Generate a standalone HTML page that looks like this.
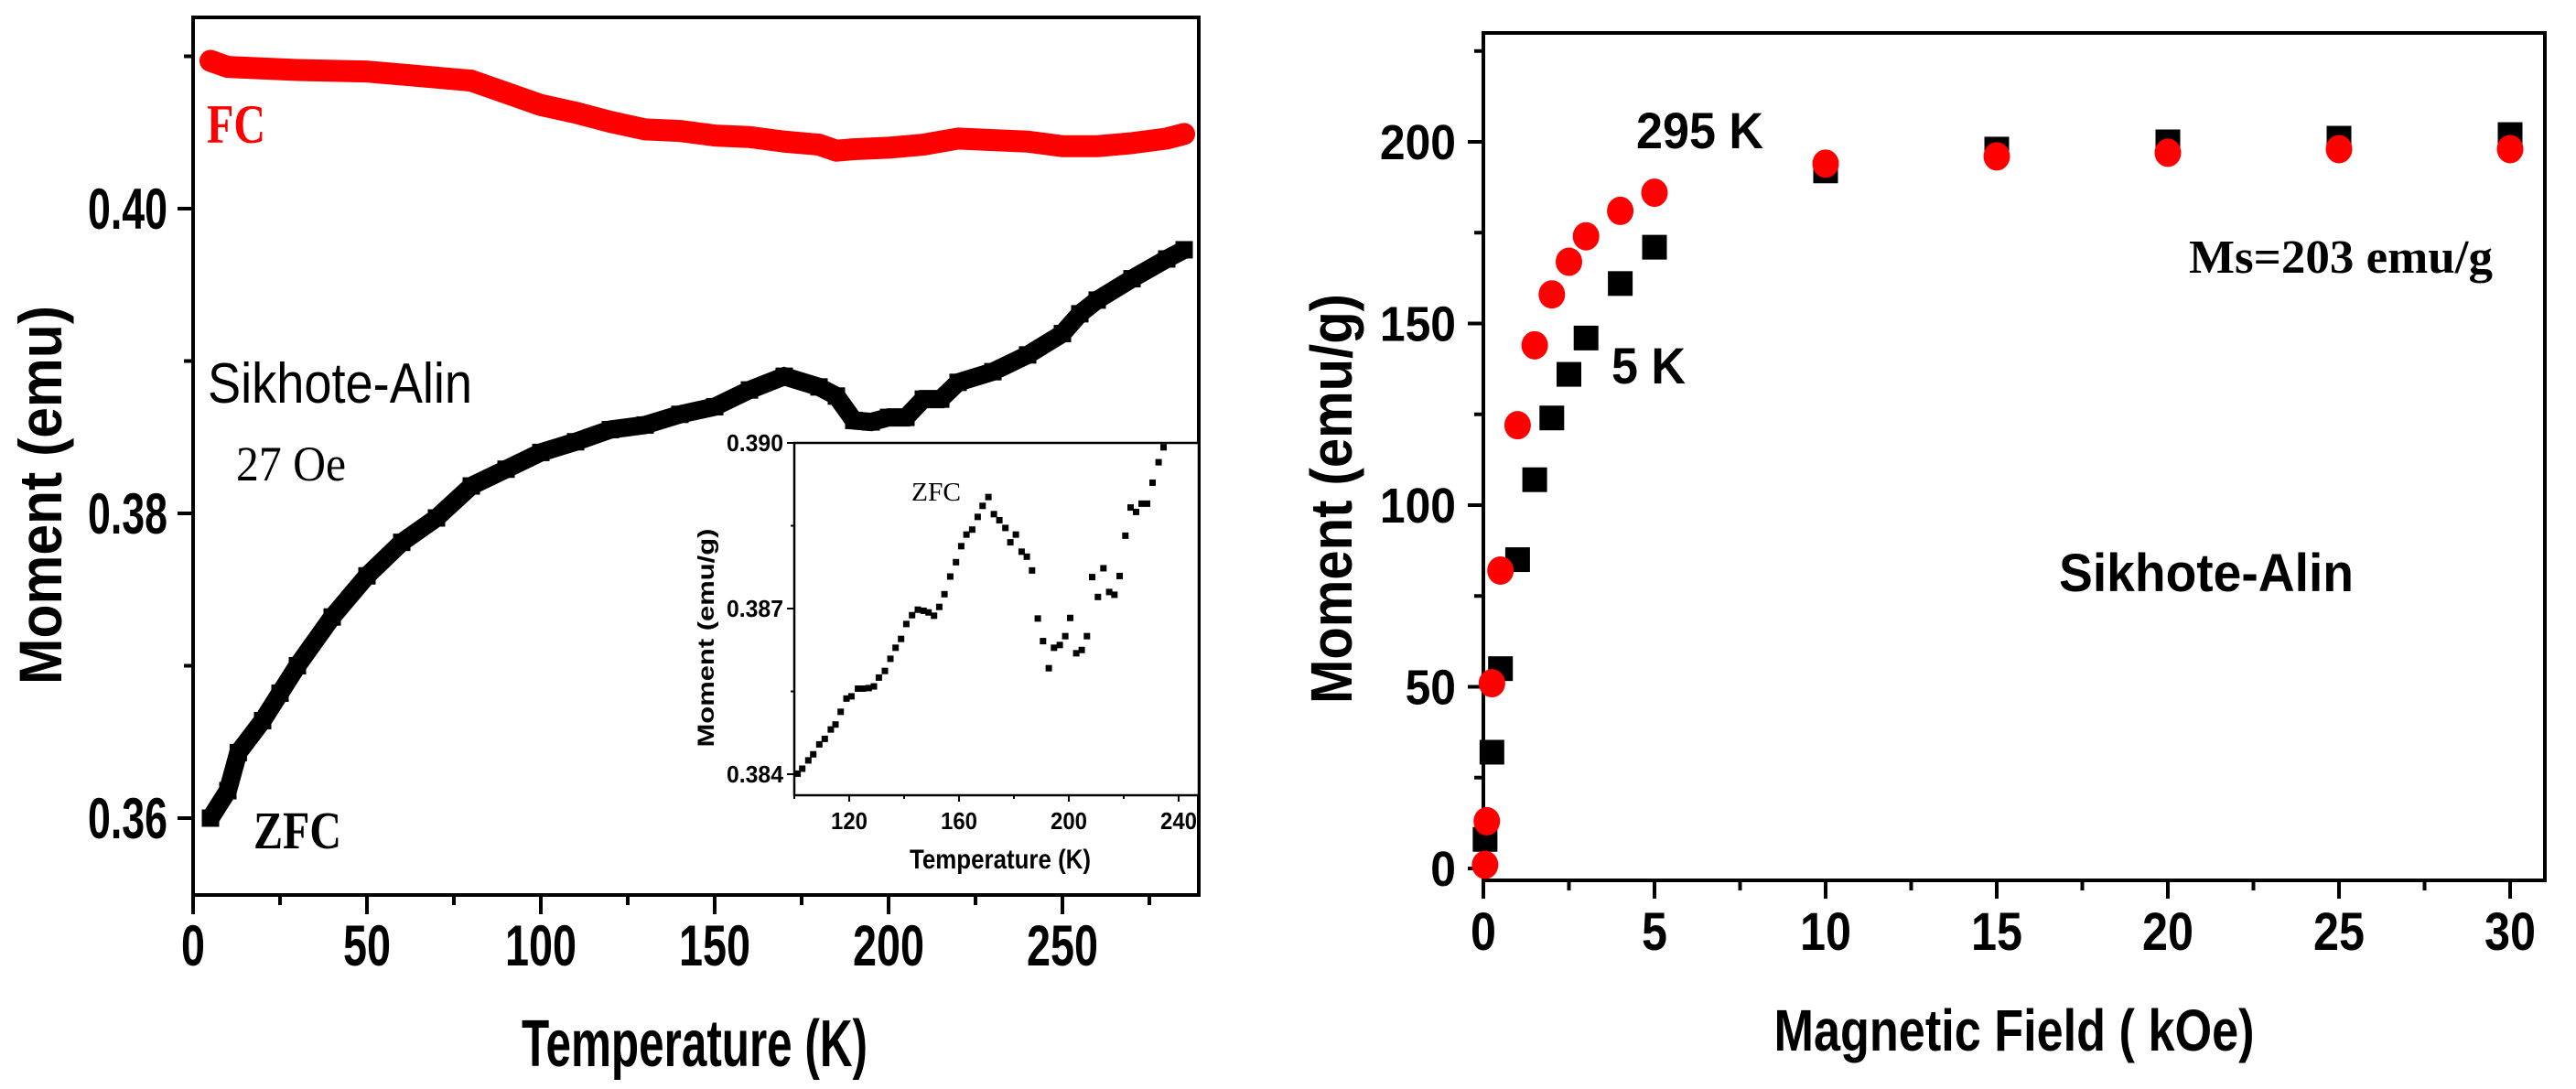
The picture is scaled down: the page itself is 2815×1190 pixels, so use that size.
<!DOCTYPE html>
<html><head><meta charset="utf-8"><style>
html,body{margin:0;padding:0;background:#fff;}
svg{display:block;}
</style></head><body>
<svg id="chart" xmlns="http://www.w3.org/2000/svg" width="2815" height="1190" viewBox="0 0 2815 1190">
<rect x="0" y="0" width="2815" height="1190" fill="#fff"/>
<g id="gL"></g>
<g id="gI"></g>
<g id="gR"></g>
</svg>
<script>
// ---- Left panel data (Temperature vs Moment) ----
const zfcT = [5,10,13,20,25,30,40,50,60,70,80,90,100,110,120,130,140,150,160,170,180,185,190,195,200,205,210,215,220,230,240,250,255,260,270,280,285];
const zfcM = [0.3600,0.3618,0.3643,0.3664,0.3682,0.3700,0.3732,0.3759,0.3781,0.3797,0.3818,0.3829,0.3840,0.3847,0.3855,0.3858,0.3865,0.3870,0.3881,0.3890,0.3883,0.3877,0.3861,0.3860,0.3863,0.3863,0.3875,0.3875,0.3886,0.3893,0.3904,0.3918,0.3931,0.3940,0.3954,0.3967,0.3973];
const fcT = [5,10,30,50,60,80,90,100,110,120,130,140,150,160,170,180,185,190,200,210,220,230,240,250,260,270,280,285];
const fcM = [0.4097,0.4093,0.4091,0.4090,0.4088,0.4084,0.4076,0.4068,0.4063,0.4057,0.4052,0.4051,0.4048,0.4047,0.4044,0.4042,0.4038,0.4039,0.4040,0.4042,0.4046,0.4045,0.4044,0.4041,0.4041,0.4043,0.4046,0.4049];
const leftXTicks = [0,50,100,150,200,250];
const leftXTickLabels = ["0","50","100","150","200","250"];
const leftYTicks = [0.36,0.38,0.40];
const leftYTickLabels = ["0.36","0.38","0.40"];
// ---- Inset data ----
const insT = [101.2,102.9,105.1,106.9,109.1,111.1,113.3,115.0,116.9,119.0,120.8,123.2,125.0,127.1,129.0,130.8,133.0,135.0,136.9,138.9,140.8,142.9,145.0,147.1,148.9,150.9,152.8,154.7,156.8,158.9,160.8,162.7,164.8,166.8,168.6,170.7,172.7,174.7,176.9,178.7,180.7,182.8,184.7,186.6,188.7,190.6,192.7,194.6,196.7,198.7,200.5,202.7,204.7,206.6,208.5,210.6,212.6,214.7,216.6,218.5,220.6,222.5,224.5,226.5,228.5,230.5,232.7,234.5];
const insM = [0.38401,0.38410,0.38425,0.38436,0.38454,0.38464,0.38481,0.38490,0.38513,0.38537,0.38541,0.38555,0.38555,0.38556,0.38559,0.38575,0.38587,0.38609,0.38629,0.38645,0.38672,0.38688,0.38698,0.38696,0.38693,0.38687,0.38703,0.38726,0.38758,0.38784,0.38813,0.38834,0.38843,0.38866,0.38886,0.38902,0.38871,0.38860,0.38846,0.38820,0.38834,0.38803,0.38794,0.38769,0.38682,0.38641,0.38592,0.38629,0.38634,0.38650,0.38683,0.38619,0.38625,0.38650,0.38757,0.38721,0.38773,0.38730,0.38725,0.38759,0.38832,0.38883,0.38875,0.38890,0.38890,0.38928,0.38965,0.38992];
const insXTicks = [120,160,200,240];
const insXTickLabels = ["120","160","200","240"];
const insYTicks = [0.384,0.387,0.390];
const insYTickLabels = ["0.384","0.387","0.390"];
// ---- Right panel data (Field vs Moment) ----
const k5H = [0.05,0.25,0.5,1,1.5,2,2.5,3,4,5,10,15,20,25,30];
const k5M = [8,32,55,85,107,124,136,146,161,171,192,198,200,201,202];
const k295H = [0.05,0.1,0.25,0.5,1,1.5,2,2.5,3,4,5,10,15,20,25,30];
const k295M = [1,13,51,82,122,144,158,167,174,181,186,194,196,197,198,198];
const rightXTicks = [0,5,10,15,20,25,30];
const rightXTickLabels = ["0","5","10","15","20","25","30"];
const rightYTicks = [0,50,100,150,200];
const rightYTickLabels = ["0","50","100","150","200"];

const NS = "http://www.w3.org/2000/svg";
function mk(parent, tag, attrs){ const e=document.createElementNS(NS,tag); for(const k in attrs) e.setAttribute(k,attrs[k]); parent.appendChild(e); return e; }
function txt(parent, x, y, s, size, w, opt){
  opt = opt||{};
  const e = mk(parent,'text',{x:x,y:y,'font-size':size,'font-family':opt.serif?'"Liberation Serif", serif':'"Liberation Sans", sans-serif','font-weight':opt.normal?'normal':'bold',fill:opt.fill||'#000','text-anchor':opt.anchor||'start'});
  if(w){ e.setAttribute('textLength',w); e.setAttribute('lengthAdjust','spacingAndGlyphs'); }
  if(opt.rot) e.setAttribute('transform','rotate(-90 '+x+' '+y+')');
  e.textContent = s;
  return e;
}

// ===== LEFT =====
const gL = document.getElementById('gL');
const L = {x0:211, x1:1310, y0:19, y1:978};
const lx = t => 211 + t*3.8;
const ly = m => 228 + (0.40 - m)*16650;
{
  const f = mk(gL,'rect',{x:L.x0,y:L.y0,width:L.x1-L.x0,height:L.y1-L.y0,fill:'none',stroke:'#000','stroke-width':4});
   
  leftXTicks.forEach((t,i)=>{
    const tk = mk(gL,'line',{x1:lx(t),x2:lx(t),y1:L.y1,y2:L.y1+21,stroke:'#000','stroke-width':4});
     
    const lb = txt(gL,lx(t),1055,leftXTickLabels[i],63,leftXTickLabels[i].length*26,{anchor:'middle'});
     
    const mt = t+25;
    if(lx(mt) < L.x1){ const m = mk(gL,'line',{x1:lx(mt),x2:lx(mt),y1:L.y1,y2:L.y1+11,stroke:'#000','stroke-width':4});
        }
  });
  leftYTicks.forEach((v,i)=>{
    const tk = mk(gL,'line',{x1:L.x0-17,x2:L.x0,y1:ly(v),y2:ly(v),stroke:'#000','stroke-width':4});
     
    const lb = txt(gL,183,ly(v)+22,leftYTickLabels[i],63,87,{anchor:'end'});
     
    const mv = v+0.01;
    const m = mk(gL,'line',{x1:L.x0-10,x2:L.x0,y1:ly(mv),y2:ly(mv),stroke:'#000','stroke-width':4});
     
  });
  // FC
  const fcPts = fcT.map((t,i)=>lx(t)+','+ly(fcM[i])).join(' ');
  const fcl = mk(gL,'polyline',{points:fcPts,fill:'none',stroke:'#ff0000','stroke-width':24,'stroke-linejoin':'round','stroke-linecap':'round'});
   
  // ZFC
  const zPts = zfcT.map((t,i)=>lx(t)+','+ly(zfcM[i])).join(' ');
  const zl = mk(gL,'polyline',{points:zPts,fill:'none',stroke:'#000','stroke-width':20,'stroke-linejoin':'miter'});
   
  zfcT.forEach((t,i)=>{
    const s = mk(gL,'rect',{x:lx(t)-9.5,y:ly(zfcM[i])-9.5,width:19,height:19,fill:'#000'});
     
  });
  let e;
  e = txt(gL,226,156,'FC',60,64,{serif:true,fill:'#ff0000'});  
  e = txt(gL,227,440,'Sikhote-Alin',62,289,{normal:true});  
  e = txt(gL,258,525,'27 Oe',54,120,{serif:true,normal:true});  
  e = txt(gL,277,927,'ZFC',58,96,{serif:true});  
  e = txt(gL,759,1165,'Temperature (K)',72,378,{anchor:'middle'});  
  e = txt(gL,67,541,'Moment (emu)',66,414,{anchor:'middle',rot:true});  
}

// ===== INSET =====
const gI = document.getElementById('gI');
const I = {x0:868, x1:1310, y0:484, y1:869};
const ix = t => 868 + (t-100)*3.0;
const iy = m => 484 + (0.390 - m)*60333;
{
  const bg = mk(gI,'rect',{x:I.x0,y:I.y0,width:I.x1-I.x0,height:I.y1-I.y0,fill:'#fff',stroke:'#000','stroke-width':2.5});
   
  insXTicks.forEach((t,i)=>{
    const tk = mk(gI,'line',{x1:ix(t),x2:ix(t),y1:I.y1,y2:I.y1+7,stroke:'#000','stroke-width':2});
     
    const m = mk(gI,'line',{x1:ix(t-20),x2:ix(t-20),y1:I.y1,y2:I.y1+4,stroke:'#000','stroke-width':2});
     
    const lb = txt(gI,ix(t),906,insXTickLabels[i],26,40,{anchor:'middle'});
     
  });
  insYTicks.forEach((v,i)=>{
    const tk = mk(gI,'line',{x1:I.x0-8,x2:I.x0,y1:iy(v),y2:iy(v),stroke:'#000','stroke-width':2});
     
    const lb = txt(gI,856,iy(v)+9,insYTickLabels[i],26,62,{anchor:'end'});
     
    if(i<2){ const m = mk(gI,'line',{x1:I.x0-4,x2:I.x0,y1:iy(v+0.0015),y2:iy(v+0.0015),stroke:'#000','stroke-width':2});
        }
  });
  insT.forEach((t,i)=>{
    const s = mk(gI,'rect',{x:ix(t)-3.5,y:iy(insM[i])-3.5,width:7,height:7,fill:'#000'});
     
  });
  let e;
  e = txt(gI,996,547,'ZFC',28,54,{serif:true,normal:true});  
  e = txt(gI,1093,949,'Temperature (K)',30,198,{anchor:'middle'});  
  e = txt(gI,780,697,'Moment (emu/g)',25,239,{anchor:'middle',rot:true});  
}

// ===== RIGHT =====
const gR = document.getElementById('gR');
const R = {x0:1621, x1:2781, y0:36, y1:962};
const rx = h => 1621 + h*37.4;
const ry = m => 949 - m*3.97;
{
  const f = mk(gR,'rect',{x:R.x0,y:R.y0,width:R.x1-R.x0,height:R.y1-R.y0,fill:'none',stroke:'#000','stroke-width':4});
   
  rightXTicks.forEach((h,i)=>{
    const tk = mk(gR,'line',{x1:rx(h),x2:rx(h),y1:R.y1,y2:R.y1+20,stroke:'#000','stroke-width':4});
     
    const lb = txt(gR,rx(h),1038,rightXTickLabels[i],58,rightXTickLabels[i].length*28,{anchor:'middle'});
     
    if(h<30){ const m = mk(gR,'line',{x1:rx(h+2.5),x2:rx(h+2.5),y1:R.y1,y2:R.y1+11,stroke:'#000','stroke-width':4});
        }
  });
  rightYTicks.forEach((v,i)=>{
    const tk = mk(gR,'line',{x1:R.x0-17,x2:R.x0,y1:ry(v),y2:ry(v),stroke:'#000','stroke-width':4});
     
    const lb = txt(gR,1591,ry(v)+19,rightYTickLabels[i],54,rightYTickLabels[i].length*27.7,{anchor:'end'});
     
    const m = mk(gR,'line',{x1:R.x0-10,x2:R.x0,y1:ry(v+25),y2:ry(v+25),stroke:'#000','stroke-width':4});
     
  });
  k5H.forEach((h,i)=>{
    const s = mk(gR,'rect',{x:rx(h)-13.5,y:ry(k5M[i])-13.5,width:27,height:27,fill:'#000'});
     
  });
  k295H.forEach((h,i)=>{
    const c = mk(gR,'ellipse',{cx:rx(h),cy:ry(k295M[i]),rx:14.5,ry:15.5,fill:'#ff0000'});
     
  });
  let e;
  e = txt(gR,1788,162,'295 K',56,139);  
  e = txt(gR,1761,419,'5 K',56,81);  
  e = txt(gR,2392,298,'Ms=203 emu/g',52,332,{serif:true});  
  e = txt(gR,2250,646,'Sikhote-Alin',58,322);  
  e = txt(gR,2201,1148,'Magnetic Field ( kOe)',64,525,{anchor:'middle'});  
  e = txt(gR,1477,545,'Moment (emu/g)',64,448,{anchor:'middle',rot:true});  
}
</script>
</body></html>
